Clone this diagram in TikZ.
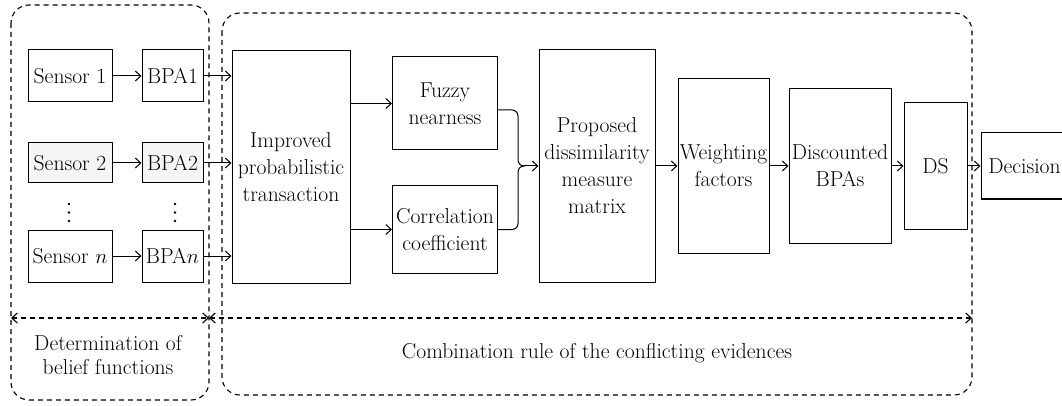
\documentclass[tikz,border=0pt]{standalone}
\usetikzlibrary{arrows.meta}
\begin{document}
\begin{tikzpicture}[x=1pt,y=-1pt,
  every node/.style={font=\fontsize{21.6}{27}\selectfont},
  blk/.style={draw, line width=1pt, align=center, inner sep=0pt},
  shaded/.style={fill=black!4},
  flow/.style={line width=1pt, -{Straight Barb[length=5.5pt,width=10pt]}},
  region/.style={line width=1.1pt, dash pattern=on 5pt off 4pt, rounded corners=18pt},
  span/.style={line width=1.1pt, dash pattern=on 5pt off 4pt,
    {Straight Barb[length=5.5pt,width=10pt]}-{Straight Barb[length=5.5pt,width=10pt]}},
  lbl/.style={align=center, inner sep=0pt}]
\useasboundingbox (0,0) rectangle (1062,406);

% the two dashed regions
\draw[region] (11,5) rectangle (209,400);
\draw[region] (222,13) rectangle (972,395);

% sensors and their basic probability assignments
\node[blk, minimum width=84pt, minimum height=52pt] (s1) at (70,76) {Sensor 1};
\node[blk, minimum width=61pt, minimum height=52pt] (b1) at (172.5,76) {BPA1};
\node[blk, shaded, minimum width=84pt, minimum height=40pt] (s2) at (70,163) {Sensor 2};
\node[blk, shaded, minimum width=61pt, minimum height=40pt] (b2) at (172.5,163) {BPA2};
\node[blk, minimum width=84pt, minimum height=52pt] (sn) at (70,256) {Sensor $n$};
\node[blk, minimum width=61pt, minimum height=52pt] (bn) at (172.5,256) {BPA$n$};

% vertical ellipses between the second and the last rows
\foreach \x in {69,175} {
  \foreach \y in {204,212.5,221} \fill (\x,\y) circle (1.3pt);
}

% processing chain
\node[blk, minimum width=118pt, minimum height=232pt] (imp) at (291,167)
  {Improved\\probabilistic\\transaction};
\node[blk, minimum width=105pt, minimum height=93pt] (fz) at (445,103.5)
  {Fuzzy\\nearness};
\node[blk, minimum width=105pt, minimum height=87pt] (cc) at (445,229.5)
  {Correlation\\coefficient};
\node[blk, minimum width=116pt, minimum height=233pt] (prop) at (597,166)
  {Proposed\\dissimilarity\\measure\\matrix};
\node[blk, minimum width=91pt, minimum height=175pt] (wf) at (723.5,166)
  {Weighting\\factors};
\node[blk, minimum width=102pt, minimum height=154pt] (disc) at (840,166)
  {Discounted\\BPAs};
\node[blk, minimum width=63pt, minimum height=126pt] (ds) at (935.5,166) {DS};
\node[blk, minimum width=87pt, minimum height=66pt] (dec) at (1024.5,166) {Decision};

% connectors
\draw[flow] (s1) -- (b1);
\draw[flow] (s2) -- (b2);
\draw[flow] (sn) -- (bn);
\draw[flow] (b1) -- (b1 -| imp.west);
\draw[flow] (b2) -- (b2 -| imp.west);
\draw[flow] (bn) -- (bn -| imp.west);
\draw[flow] (imp.east |- fz.west) -- (fz.west);
\draw[flow] (imp.east |- cc.west) -- (cc.west);

% brace joining the two measures
\coordinate (tip) at (525,166);
\coordinate (bx) at (518,0);
\draw[line width=1pt, rounded corners=6pt]
  ([yshift=-6.5pt]fz.east) -- ([yshift=-6.5pt]fz.east -| bx) -- (bx |- tip) -- (tip);
\draw[line width=1pt, rounded corners=6pt]
  (cc.east) -- (cc.east -| bx) -- (bx |- tip) -- (tip);
\draw[flow] (tip) -- (tip -| prop.west);

\draw[flow] (prop) -- (wf);
\draw[flow] (wf) -- (disc);
\draw[flow] (disc) -- (ds);
\draw[flow] (ds) -- (dec);

% spans of the two stages
\coordinate (l1) at (11,318);
\coordinate (l2) at (209,318);
\coordinate (l3) at (972,318);
\draw[span] (l1) -- (l2);
\draw[span] (l2) -- (l3);

\node[lbl, font=\fontsize{21.6}{23.5}\selectfont] (stage1) at (108,355)
  {Determination of\\belief functions};
\node[lbl] (stage2) at (597,353)
  {Combination rule of the conflicting evidences};
\end{tikzpicture}
\end{document}
